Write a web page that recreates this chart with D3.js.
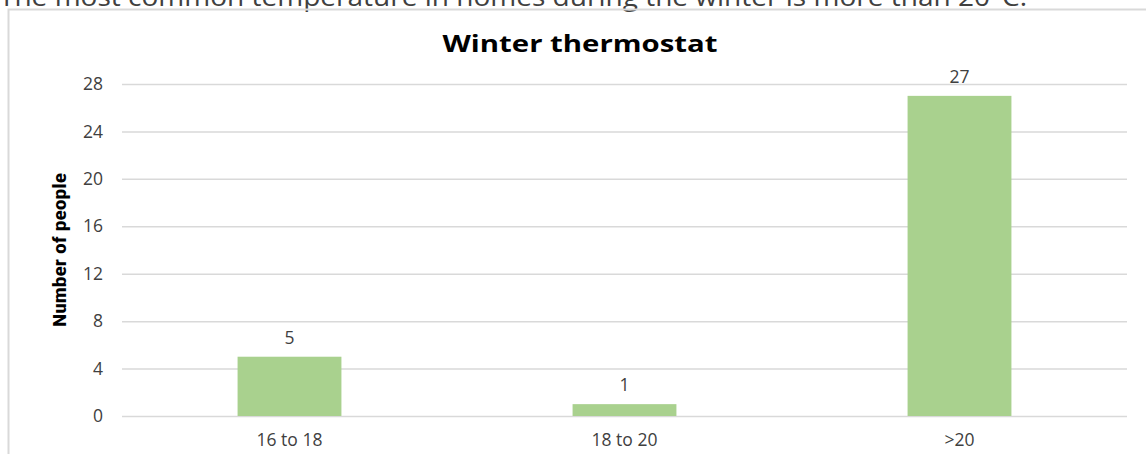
<!DOCTYPE html>
<html lang="en">
    <head>
        <title>Winter thermostat</title>
        <meta charset="UTF-8">
        <style>
            body { margin: 0; background: #fff; }
            svg { display: block; }
        </style>
    </head>
    <script src="https://cdn.jsdelivr.net/npm/d3@7"></script>
    <body>
        <script>
            const width = 1146
            const height = 454

            // data
            var categories = ["16 to 18", "18 to 20", ">20"]
            var counts = [5, 1, 27]
            var yTicks = [0, 4, 8, 12, 16, 20, 24, 28]

            var margin = { top: 84, right: 19, bottom: 38, left: 122 }
            var labelFont = "'Open Sans', sans-serif"

            var svg = d3.select("body")
                .append("svg")
                .attr("width", width)
                .attr("height", height)

            // text from the page above the chart, cut off at the top
            svg.append("text")
                .attr("x", -1)
                .attr("y", 6)
                .attr("fill", "#404040")
                .style("font-family", labelFont)
                .style("font-size", "26px")
                .attr("textLength", 1028)
                .attr("lengthAdjust", "spacingAndGlyphs")
                .text("The most common temperature in homes during the winter is more than 20°C.")

            // chart frame (top and left edge visible)
            svg.append("path")
                .attr("d", `M8.5,${height} V9.5 H${width}`)
                .attr("fill", "none")
                .attr("stroke", "#d9d9d9")
                .attr("stroke-width", 2)

            var x = d3.scaleBand()
                .domain(categories)
                .range([margin.left, width - margin.right])
                .paddingInner(0.69)
                .paddingOuter(0.345)

            var y = d3.scaleLinear()
                .domain([0, 28])
                .range([height - margin.bottom, margin.top])

            // gridlines
            svg.append("g")
                .attr("transform", `translate(${margin.left},0)`)
                .call(d3.axisLeft(y).tickValues(yTicks)
                    .tickSize(-(width - margin.left - margin.right))
                    .tickFormat(""))
                .call(g => g.select(".domain").remove())
                .call(g => g.selectAll("line").attr("stroke", "#d9d9d9").attr("stroke-width", 1.5))

            // y tick labels
            svg.append("g")
                .attr("transform", `translate(${margin.left - 19},0)`)
                .call(d3.axisLeft(y).tickValues(yTicks).tickSize(0).tickPadding(0))
                .call(g => g.select(".domain").remove())
                .call(g => g.selectAll("text")
                    .attr("fill", "#404040")
                    .style("font-family", labelFont)
                    .style("font-size", "17.5px"))

            // bars
            svg.selectAll("rect.bar")
                .data(counts)
                .enter()
                .append("rect")
                .attr("class", "bar")
                .attr("x", function (d, i) { return x(categories[i]) })
                .attr("width", x.bandwidth())
                .attr("y", function (d) { return y(d) })
                .attr("height", function (d) { return y(0) - y(d) })
                .attr("fill", "#a9d18e")

            // value labels
            svg.selectAll("text.val")
                .data(counts)
                .enter()
                .append("text")
                .attr("class", "val")
                .attr("x", function (d, i) { return x(categories[i]) + x.bandwidth() / 2 })
                .attr("y", function (d) { return y(d) - 13 })
                .attr("text-anchor", "middle")
                .attr("fill", "#404040")
                .style("font-family", labelFont)
                .style("font-size", "17.5px")
                .text(function (d) { return d })

            // x category labels
            svg.append("g")
                .attr("transform", `translate(0,${y(0)})`)
                .call(d3.axisBottom(x).tickSize(0).tickPadding(18))
                .call(g => g.select(".domain").remove())
                .call(g => g.selectAll("text")
                    .attr("fill", "#404040")
                    .style("font-family", labelFont)
                    .style("font-size", "17.5px"))

            // title
            svg.append("text")
                .attr("x", 580)
                .attr("y", 52)
                .attr("text-anchor", "middle")
                .attr("fill", "#000")
                .attr("textLength", 275)
                .attr("lengthAdjust", "spacingAndGlyphs")
                .style("font-family", labelFont)
                .style("font-weight", "bold")
                .style("font-size", "23px")
                .text("Winter thermostat")

            // y axis title
            svg.append("text")
                .attr("transform", `translate(66,250) rotate(-90)`)
                .attr("text-anchor", "middle")
                .attr("fill", "#000")
                .attr("textLength", 154)
                .attr("lengthAdjust", "spacingAndGlyphs")
                .style("font-family", "'Liberation Sans Narrow', 'Roboto Condensed', sans-serif")
                .style("font-weight", "bold")
                .style("font-size", "19px")
                .text("Number of people")
        </script>
    </body>
</html>
